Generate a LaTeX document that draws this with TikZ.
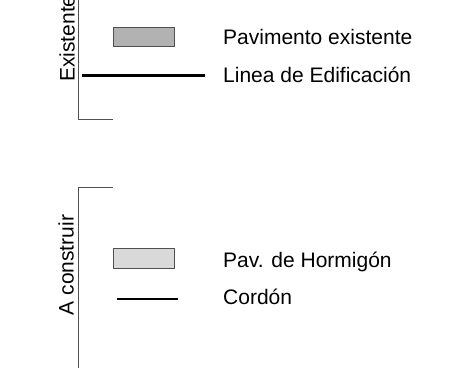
\documentclass[tikz,border=0pt]{standalone}
\usepackage{fontspec}
\setmainfont{Liberation Sans}
\usepackage{tikz}
\usepackage{xcolor}
\usetikzlibrary{positioning}
\definecolor{pavgray}{RGB}{178, 178, 178}
\definecolor{hormgray}{RGB}{217, 217, 217}
\definecolor{bracketgray}{RGB}{80, 80, 80}

\begin{document}
\begin{tikzpicture}[
    x=1pt, y=-1pt,
    label/.style={anchor=base west, inner sep=0pt, font=\fontsize{21}{25}\selectfont},
    group/.style={rotate=90, inner sep=0pt, font=\fontsize{21}{25}\selectfont},
    bracket/.style={bracketgray, line width=1pt},
    pavbox/.style={draw=bracketgray, line width=1pt},
    edline/.style={black, line width=3pt},
    cordline/.style={black, line width=1.2pt}
]
\useasboundingbox (0,0) rectangle (463,368);

% Existing section
\coordinate (topA) at (78.5,0);
\coordinate (topB) at (78.5,119);
\coordinate (topC) at (113,119);
\draw[bracket] (topA) -- (topB) -- (topC);
\node[group, anchor=base west] (exist) at (74.5,82) {Existente};

\draw[pavbox, fill=pavgray] (113,27) rectangle (174,46);
\node[label] (pavex) at (223,44) {Pavimento existente};

\coordinate (edA) at (82,75);
\coordinate (edB) at (205,75);
\draw[edline] (edA) -- (edB);
\node[label] (edif) at (223,82) {Linea de Edificación};

% To be built section
\coordinate (botA) at (113,187);
\coordinate (botB) at (78.5,187);
\coordinate (botC) at (78.5,368);
\draw[bracket] (botA) -- (botB) -- (botC);
\node[group, anchor=base] (build) at (73.5,265) {A construir};

\draw[pavbox, fill=hormgray] (113,248) rectangle (174,268);
\node[label] (pavhor) at (223,267) {Pav. de Hormigón};

\coordinate (cordA) at (117,299);
\coordinate (cordB) at (178,299);
\draw[cordline] (cordA) -- (cordB);
\node[label] (cord) at (223,304) {Cordón};

\end{tikzpicture}
\end{document}
